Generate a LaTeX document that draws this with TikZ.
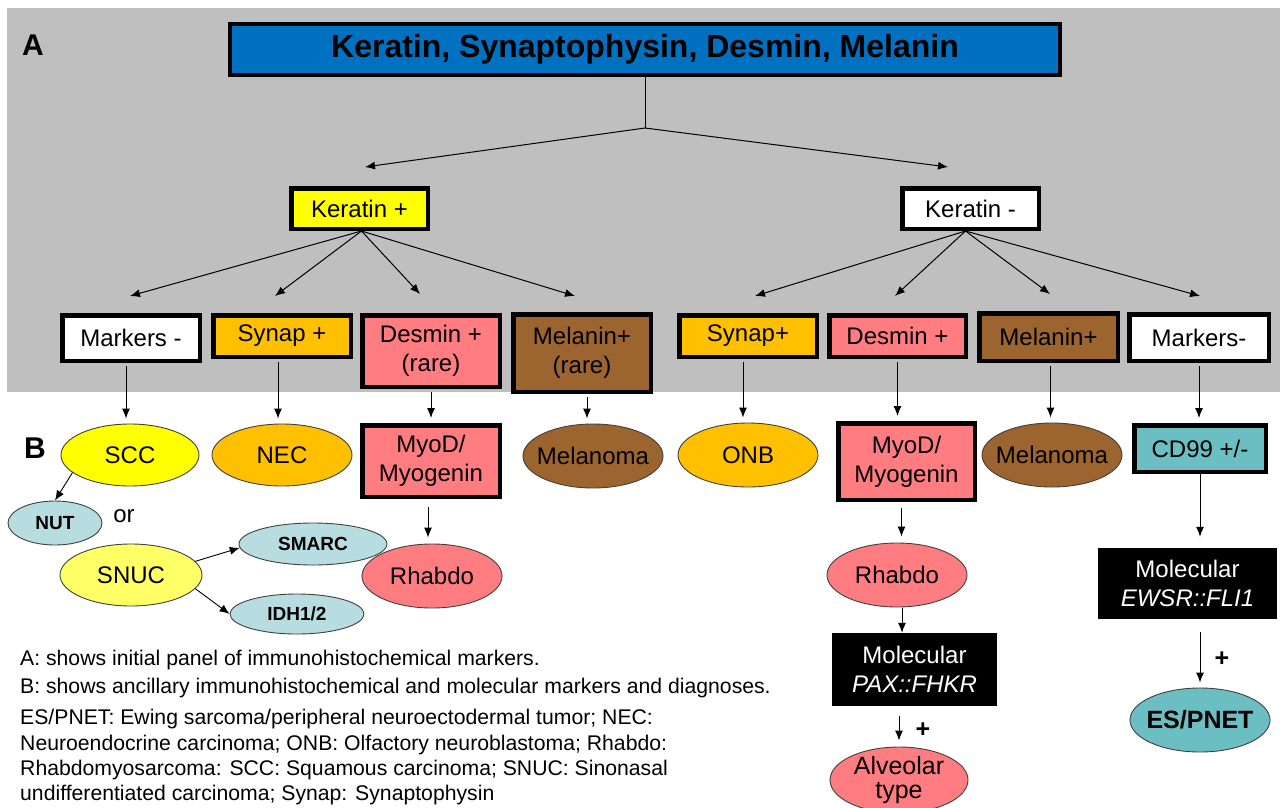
\documentclass[tikz,border=0pt]{standalone}
\usepackage{fontspec}
\setmainfont{Liberation Sans}
\usetikzlibrary{shapes.geometric,arrows.meta,calc}
\definecolor{bggray}{HTML}{BFBFBF}
\definecolor{cblue}{HTML}{0070C0}
\definecolor{cyel}{HTML}{FFFF00}
\definecolor{cyel2}{HTML}{FFFF66}
\definecolor{corange}{HTML}{FFC000}
\definecolor{cpink}{HTML}{FF7C80}
\definecolor{cbrown}{HTML}{9C6530}
\definecolor{clblue}{HTML}{B7DDE1}
\definecolor{cteal}{HTML}{6BBFC3}
\begin{document}
\begin{tikzpicture}[x=1pt,y=-1pt,
  bx/.style={draw=black, line width=4.5pt, inner sep=0pt, align=center, font=\fontsize{24}{29}\selectfont},
  el/.style={ellipse, draw=black!75, line width=0.9pt, inner sep=0pt},
  etx/.style={font=\fontsize{24}{29}\selectfont, align=center},
  btx/.style={font=\bfseries\fontsize{19}{22}\selectfont},
  arr/.style={-{Latex[length=10pt,width=8pt]}, line width=1pt},
  dn/.style={arr, shorten <=3pt, shorten >=5pt},
  mol/.style={fill=black, text=white, inner sep=0pt, align=center, font=\fontsize{24}{29}\selectfont},
  leg/.style={anchor=base west, inner sep=0pt, font=\fontsize{21.2}{25}\selectfont},
  plus/.style={font=\bfseries\fontsize{25}{28}\selectfont}
]
\useasboundingbox (0,0) rectangle (1280,807);
\fill[white] (0,0) rectangle (1280,807);
\fill[bggray] (7,8) rectangle (1280,392);

% labels A / B
\node[font=\bfseries\fontsize{30}{34}\selectfont] (labA) at (33,45) {A};
\node[font=\bfseries\fontsize{30}{34}\selectfont] (labB) at (35,448) {B};

% top
\node[bx, line width=4pt, fill=cblue, minimum width=830, minimum height=51, font=\bfseries\fontsize{32}{36}\selectfont] (top) at (645,49.5) {Keratin, Synaptophysin, Desmin, Melanin};
\coordinate (br) at (645,128);

\node[bx, fill=cyel, minimum width=136.5, minimum height=40.5] (kp) at (359.5,208.5) {Keratin +};
\node[bx, fill=white, minimum width=136.5, minimum height=40.5] (kn) at (970.5,208.5) {Keratin -};

% row 1
\node[bx, fill=white, minimum width=137.5, minimum height=45.5] (mm1) at (131,338) {Markers -};
\node[bx, fill=corange, minimum width=137.5, minimum height=41.5] (syn1) at (282,336) {Synap +};
\node[bx, fill=cpink, minimum width=137.5, minimum height=71.5] (des1) at (431,351) {Desmin +\\(rare)};
\node[bx, fill=cbrown, minimum width=137.5, minimum height=77.5] (mel1) at (582,353) {Melanin+\\(rare)};
\node[bx, fill=corange, minimum width=137.5, minimum height=41.5] (syn2) at (748,336) {Synap+};
\node[bx, fill=cpink, minimum width=136.5, minimum height=41.5] (des2) at (897.5,336) {Desmin +};
\node[bx, fill=cbrown, minimum width=138.5, minimum height=47.5] (mel2) at (1048.5,337) {Melanin+};
\node[bx, fill=white, minimum width=139.5, minimum height=46.5] (mm2) at (1199,337.5) {Markers-};

% row B
\node[el, fill=cyel, minimum width=138, minimum height=62, label={[etx]center:SCC}] (scc) at (130,455) {};
\node[el, fill=corange, minimum width=140, minimum height=62, label={[etx]center:NEC}] (nec) at (282,455) {};
\node[bx, fill=cpink, minimum width=137.5, minimum height=71.5] (myo1) at (431,461) {MyoD/\\Myogenin};
\node[el, fill=cbrown, minimum width=140, minimum height=64, label={[etx]center:Melanoma}] (mela1) at (593,456) {};
\node[el, fill=corange, minimum width=140, minimum height=64, label={[etx]center:ONB}] (onb) at (748,455) {};
\node[bx, fill=cpink, minimum width=136.5, minimum height=76.5] (myo2) at (906.5,461.5) {MyoD/\\Myogenin};
\node[el, fill=cbrown, minimum width=140, minimum height=64, label={[etx]center:Melanoma}] (mela2) at (1052,455) {};
\node[bx, fill=cteal, minimum width=131.5, minimum height=46.5] (cd99) at (1200,448.5) {CD99 +/-};

\node[el, fill=clblue, minimum width=94, minimum height=44, label={[btx]center:NUT}] (nut) at (55,523) {};
\node[etx] (or) at (124,516) {or};
\node[el, fill=cyel2, minimum width=142, minimum height=62, label={[etx]center:SNUC}] (snuc) at (131,575) {};
\node[el, fill=clblue, minimum width=148, minimum height=42, label={[btx]center:SMARC}] (smarc) at (313,544) {};
\node[el, fill=clblue, minimum width=134, minimum height=40, label={[btx]center:IDH1/2}] (idh) at (297,614) {};
\node[el, fill=cpink, minimum width=140, minimum height=64, label={[etx]center:Rhabdo}] (rh1) at (432,576) {};

\node[el, fill=cpink, minimum width=140, minimum height=64, label={[etx]center:Rhabdo}] (rh2) at (897,575) {};
\node[mol, minimum width=165, minimum height=73] (molA) at (914.5,669.5) {Molecular\\\textit{PAX::FHKR}};
\node[el, fill=cpink, minimum width=138, minimum height=66, label={[etx, font=\fontsize{25}{24}\selectfont]center:Alveolar\\type}] (alv) at (899,780) {};
\node[plus] (plusA) at (923,730) {+};

\node[mol, minimum width=179, minimum height=71] (molB) at (1187.5,583.5) {Molecular\\\textit{EWSR::FLI1}};
\node[el, fill=cteal, minimum width=140, minimum height=64, label={[etx, font=\bfseries\fontsize{25}{29}\selectfont]center:ES/PNET}] (es) at (1200,720) {};
\node[plus] (plusB) at (1222,659) {+};

% top connectors
\draw[line width=1pt] (top.south) -- (br);
\draw[arr] (br) -- ([xshift=5.5pt,yshift=19pt]kp.north);
\draw[arr] (br) -- ([xshift=-22.5pt,yshift=19pt]kn.north);

\draw[arr] ([xshift=2pt]kp.south) -- ([xshift=-1pt,yshift=17pt]mm1.north);
\draw[arr] ([xshift=2pt]kp.south) -- ([xshift=-7pt,yshift=17pt]syn1.north);
\draw[arr] ([xshift=2pt]kp.south) -- ([xshift=-11pt,yshift=19pt]des1.north);
\draw[arr] ([xshift=2pt]kp.south) -- ([xshift=-7pt,yshift=16pt]mel1.north);

\draw[arr] ([xshift=-5pt]kn.south) -- ([xshift=7pt,yshift=17pt]syn2.north);
\draw[arr] ([xshift=-5pt]kn.south) -- ([xshift=-2.5pt,yshift=17pt]des2.north);
\draw[arr] ([xshift=-5pt]kn.south) -- ([xshift=1.5pt,yshift=17pt]mel2.north);
\draw[arr] ([xshift=-5pt]kn.south) -- ([xshift=1pt,yshift=16pt]mm2.north);

% down arrows
\draw[dn] ([xshift=-5pt]mm1.south) -- ([xshift=-5pt]mm1.south |- scc.north);
\draw[dn] ([xshift=-4pt]syn1.south) -- ([xshift=-4pt]syn1.south |- nec.north);
\draw[dn] (des1.south) -- (des1.south |- myo1.north);
\draw[dn] ([xshift=5pt]mel1.south) -- ([xshift=5pt]mel1.south |- mela1.north);
\draw[dn] ([xshift=-5pt]syn2.south) -- ([xshift=-5pt]syn2.south |- onb.north);
\draw[dn] (des2.south) -- (des2.south |- myo2.north);
\draw[dn] ([xshift=2pt]mel2.south) -- ([xshift=2pt]mel2.south |- mela2.north);
\draw[dn] (mm2.south) -- (mm2.south |- cd99.north);

\draw[arr, shorten <=8pt, shorten >=6pt] ([xshift=-3pt]myo1.south) -- ([xshift=-3pt]myo1.south |- rh1.north);
\draw[arr, shorten <=6pt, shorten >=6pt] ([xshift=-5pt]myo2.south) -- ([xshift=-5pt]myo2.south |- rh2.north);
\draw[arr, shorten <=1pt] ([xshift=5pt]rh2.south) -- ([xshift=5pt]rh2.south |- molA.north);
\draw[arr, shorten <=10pt, shorten >=6pt] (alv.north |- molA.south) -- (alv.north);
\draw[arr, shorten >=11pt] (cd99.south) -- (cd99.south |- molB.north);
\draw[arr, shorten <=13pt, shorten >=5pt] (es.north |- molB.south) -- (es.north);

\draw[arr, line width=0.9pt] (scc.197) -- (nut.north);
\draw[arr, line width=0.9pt] (snuc.12) -- (smarc.183);
\draw[arr, line width=0.9pt] (snuc.348) -- (idh.west);

% legend
\node[leg] (l1) at (20,665) {A: shows initial panel of immunohistochemical markers.};
\node[leg] (l2) at (20,693) {B: shows ancillary immunohistochemical and molecular markers and diagnoses.};
\node[leg] (l3) at (20,724) {ES/PNET: Ewing sarcoma/peripheral neuroectodermal tumor; NEC:};
\node[leg] (l4) at (20,750) {Neuroendocrine carcinoma; ONB: Olfactory neuroblastoma; Rhabdo:};
\node[leg] (l5) at (20,775) {Rhabdomyosarcoma: SCC: Squamous carcinoma; SNUC: Sinonasal};
\node[leg] (l6) at (20,800) {undifferentiated carcinoma; Synap: Synaptophysin};
\end{tikzpicture}
\end{document}
